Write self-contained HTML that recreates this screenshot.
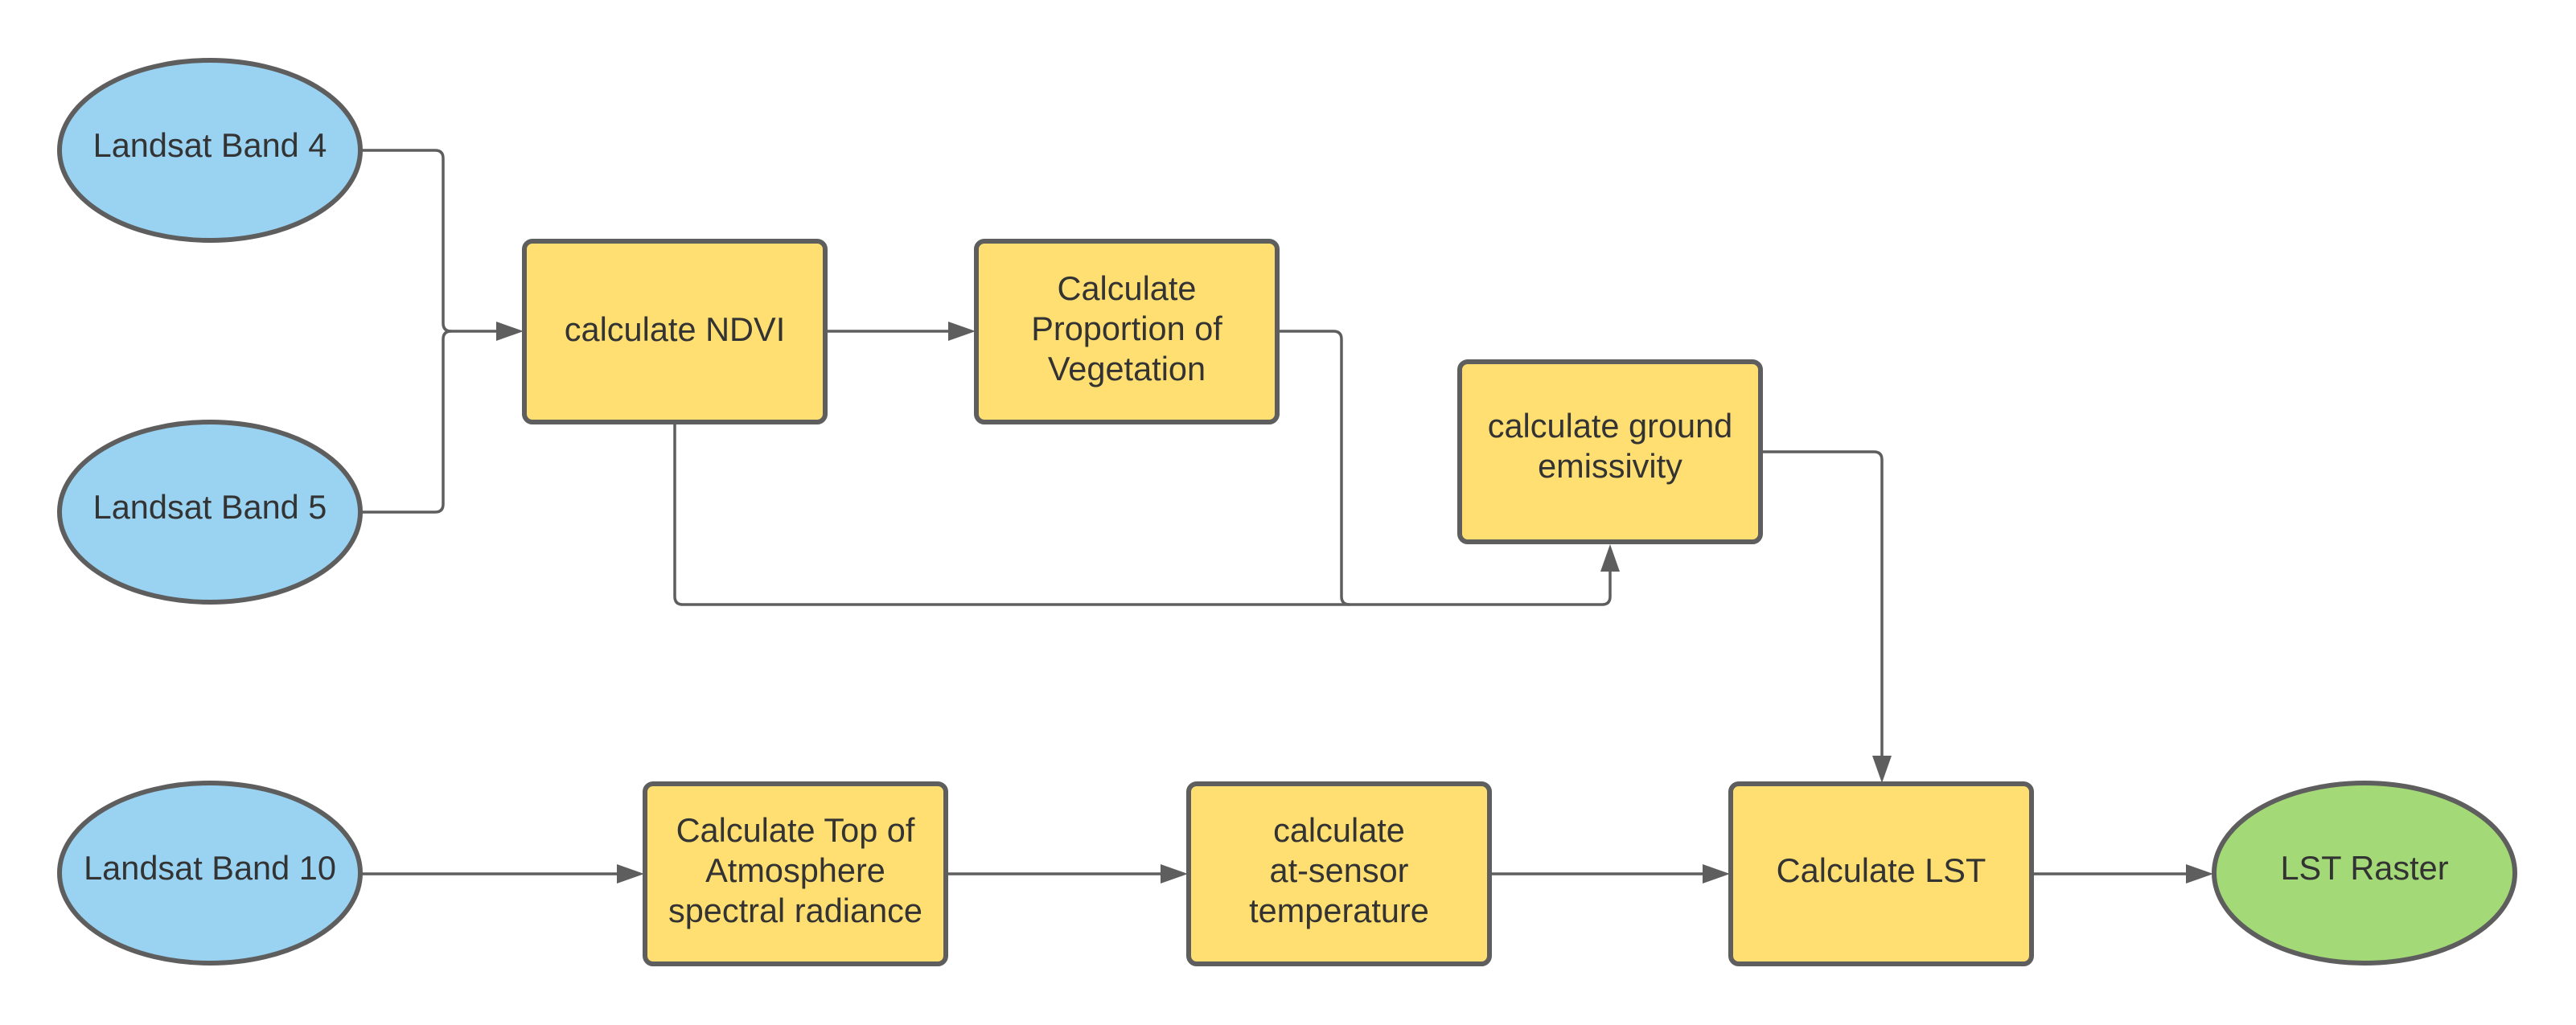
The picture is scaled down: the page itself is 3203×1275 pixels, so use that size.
<!DOCTYPE html>
<html><head><meta charset="utf-8"><style>
html,body{margin:0;padding:0;background:#fff;}
svg{display:block;}
text{font-family:"Liberation Sans",sans-serif;font-size:41.5px;fill:#333;text-anchor:middle;}
</style></head><body>
<svg width="3203" height="1275" viewBox="0 0 3203 1275" xmlns="http://www.w3.org/2000/svg">
<g fill="none" stroke="#5e5e5e" stroke-width="3.5" stroke-linejoin="round">
<path d="M449 187 H541 Q551 187 551 197 V402 Q551 412 561 412 H620"/>
<path d="M449 637 H541 Q551 637 551 627 V422 Q551 412 561 412"/>
<path d="M1027 412 H1182"/>
<path d="M1589 412 H1658 Q1668 412 1668 422 V742 Q1668 752 1678 752 H1992 Q2002 752 2002 742 V705"/>
<path d="M839 525 V742 Q839 752 849 752 H1678"/>
<path d="M2190 562 H2330 Q2340 562 2340 572 V943"/>
<path d="M449 1087 H770"/>
<path d="M1177 1087 H1446"/>
<path d="M1853 1087 H2120"/>
<path d="M2527 1087 H2721"/>
</g>
<g fill="#5e5e5e">
<polygon points="651,412 617,400 617,424"/>
<polygon points="1213,412 1179,400 1179,424"/>
<polygon points="2002,677 1990,711 2014,711"/>
<polygon points="2340,974 2328,940 2352,940"/>
<polygon points="801,1087 767,1075 767,1099"/>
<polygon points="1477,1087 1443,1075 1443,1099"/>
<polygon points="2151,1087 2117,1075 2117,1099"/>
<polygon points="2752,1087 2718,1075 2718,1099"/>
</g>
<g stroke="#5e5e5e" stroke-width="6">
<ellipse cx="261" cy="187" rx="187" ry="112" fill="#9ad3f2"/>
<ellipse cx="261" cy="637" rx="187" ry="112" fill="#9ad3f2"/>
<ellipse cx="261" cy="1086" rx="187" ry="112" fill="#9ad3f2"/>
<ellipse cx="2940" cy="1086" rx="187" ry="112" fill="#a3d977"/>
<rect x="652" y="300" width="374" height="225" rx="10" fill="#ffdf71"/>
<rect x="1214" y="300" width="374" height="225" rx="10" fill="#ffdf71"/>
<rect x="1815" y="450" width="374" height="224" rx="10" fill="#ffdf71"/>
<rect x="802" y="975" width="374" height="224" rx="10" fill="#ffdf71"/>
<rect x="1478" y="975" width="374" height="224" rx="10" fill="#ffdf71"/>
<rect x="2152" y="975" width="374" height="224" rx="10" fill="#ffdf71"/>
</g>
<text x="261" y="195">Landsat Band 4</text>
<text x="261" y="645">Landsat Band 5</text>
<text x="261" y="1094">Landsat Band 10</text>
<text x="2940" y="1094">LST Raster</text>
<text x="839" y="424">calculate NDVI</text>
<text x="1401" y="373">Calculate</text>
<text x="1401" y="423">Proportion of</text>
<text x="1401" y="473">Vegetation</text>
<text x="2002" y="544">calculate ground</text>
<text x="2002" y="594">emissivity</text>
<text x="989" y="1047">Calculate Top of</text>
<text x="989" y="1097">Atmosphere</text>
<text x="989" y="1147">spectral radiance</text>
<text x="1665" y="1047">calculate</text>
<text x="1665" y="1097">at-sensor</text>
<text x="1665" y="1147">temperature</text>
<text x="2339" y="1097">Calculate LST</text>
</svg>
</body></html>
